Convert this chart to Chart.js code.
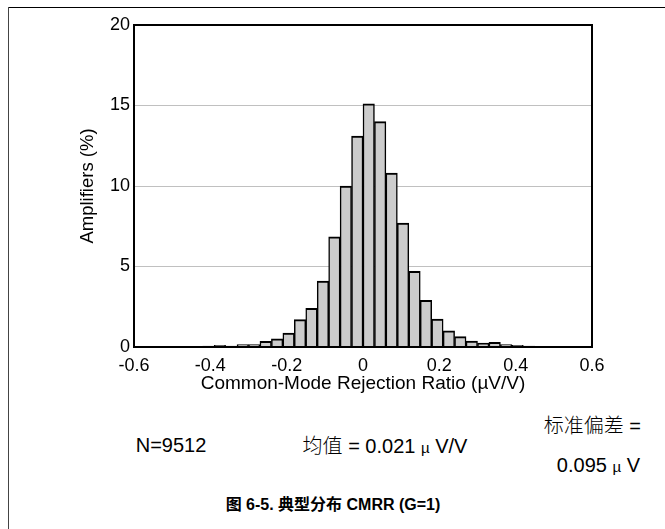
<!DOCTYPE html>
<html>
<head>
<meta charset="utf-8">
<script src="https://cdn.jsdelivr.net/npm/chart.js@4.4.0/dist/chart.umd.min.js"></script>
<style>
  html, body { margin: 0; padding: 0; background: #fff; }
  #wrap { position: relative; width: 665px; height: 529px; overflow: hidden; font-family: "Liberation Sans", Arial, "Noto Sans CJK SC", sans-serif; color: #000; }
  #frameLeft { position: absolute; left: 8px; top: 7px; width: 1px; height: 522px; background: #444; }
  #frameTop { position: absolute; left: 8px; top: 7px; width: 657px; height: 1px; background: #000; }
  #chartBox { position: absolute; left: 0; top: 0; width: 665px; height: 400px; }
  .txt { position: absolute; white-space: nowrap; font-size: 20px; line-height: 1; }
  .cjk { font-family: "Noto Sans CJK SC", sans-serif; font-weight: 300; }
  .mu { font-size: 15px; }
</style>
</head>
<body>
<div id="wrap">
  <div id="frameTop"></div>
  <div id="frameLeft"></div>
  <div id="chartBox"><canvas id="c"></canvas></div>
  <div class="txt" id="nTxt" style="left:171px; top:445px; transform:translate(-50%,-50%);">N=9512</div>
  <div class="txt" id="meanTxt" style="left:385px; top:445px; transform:translate(-50%,-50%);"><span class="cjk">均值</span> = 0.021 <span class="mu">µ</span> V/V</div>
  <div class="txt" id="sdTxt1" style="right:24px; top:425px; transform:translateY(-50%);"><span class="cjk">标准偏差</span> =</div>
  <div class="txt" id="sdTxt2" style="right:25px; top:465px; transform:translateY(-50%);">0.095 <span class="mu">µ</span> V</div>
  <div class="txt" id="caption" style="left:333px; top:505px; transform:translate(-50%,-50%); font-weight:bold; font-size:16px;">图 6-5. 典型分布 CMRR (G=1)</div>
</div>
<script>
// histogram bins (centre of each 0.03 wide bin) and percentage of amplifiers
const binCenters = [-0.435, -0.405, -0.375, -0.345, -0.315, -0.285, -0.255, -0.225, -0.195, -0.165,
  -0.135, -0.105, -0.075, -0.045, -0.015, 0.015, 0.045, 0.075, 0.105, 0.135,
  0.165, 0.195, 0.225, 0.255, 0.285, 0.315, 0.345, 0.375, 0.405, 0.435];
const amplifiersPct = [0.03, 0.06, 0.1, 0.06, 0.15, 0.15, 0.35, 0.5, 0.87, 1.7,
  2.4, 4.1, 6.85, 10.0, 13.1, 15.1, 14.0, 10.8, 7.7, 4.7,
  2.9, 1.74, 1.0, 0.64, 0.37, 0.25, 0.29, 0.15, 0.1, 0.05];
const xTicks = [-0.6, -0.4, -0.2, 0, 0.2, 0.4, 0.6];
const yTicks = [0, 5, 10, 15, 20];

const points = binCenters.map((x, i) => ({ x, y: amplifiersPct[i] }));

const framePlugin = {
  id: 'frame',
  afterDraw(chart) {
    const { ctx, chartArea: a } = chart;
    ctx.save();
    ctx.strokeStyle = '#000';
    ctx.lineWidth = 2;
    ctx.strokeRect(a.left, a.top, a.right - a.left, a.bottom - a.top);
    ctx.restore();
  }
};

new Chart(document.getElementById('c'), {
  type: 'bar',
  data: {
    datasets: [{
      data: points,
      backgroundColor: '#cccccc',
      borderColor: '#000',
      borderWidth: { top: 2, left: 1.5, right: 1.5, bottom: 0 },
      borderSkipped: false,
      barPercentage: 1,
      categoryPercentage: 1
    }]
  },
  options: {
    responsive: true,
    maintainAspectRatio: false,
    animation: false,
    events: [],
    layout: { padding: { left: 0, top: 25, right: 73, bottom: 0 } },
    plugins: { legend: { display: false }, tooltip: { enabled: false } },
    scales: {
      x: {
        type: 'linear',
        offset: false,
        min: -0.6,
        max: 0.6,
        afterBuildTicks: s => { s.ticks = xTicks.map(v => ({ value: v })); },
        afterFit: s => { s.height = 53; },
        ticks: {
          color: '#000',
          font: { family: '"Liberation Sans", Arial', size: 18 },
          padding: 8,
          maxRotation: 0,
          callback: v => String(Math.round(v * 10) / 10)
        },
        grid: { display: false, drawTicks: false },
        border: { display: false },
        title: {
          display: true,
          text: 'Common-Mode Rejection Ratio (µV/V)',
          color: '#000',
          font: { family: '"Liberation Sans", Arial', size: 19 },
          padding: { top: 0, bottom: 5 }
        }
      },
      y: {
        min: 0,
        max: 20,
        afterBuildTicks: s => { s.ticks = yTicks.map(v => ({ value: v })); },
        afterFit: s => { s.width = 134; },
        ticks: {
          color: '#000',
          font: { family: '"Liberation Sans", Arial', size: 18 },
          padding: 4
        },
        grid: { color: '#c0c0c0', lineWidth: 1, drawTicks: false },
        border: { display: false },
        title: {
          display: true,
          text: 'Amplifiers (%)',
          color: '#000',
          font: { family: '"Liberation Sans", Arial', size: 18.5 },
          padding: { top: 77, bottom: 0 }
        }
      }
    }
  },
  plugins: [framePlugin]
});
</script>
</body>
</html>
